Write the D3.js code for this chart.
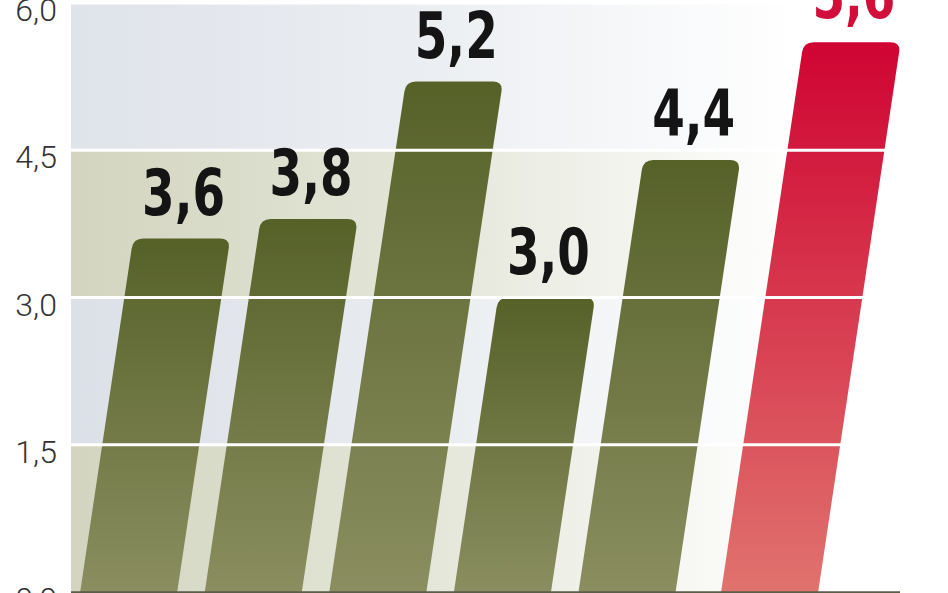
<!DOCTYPE html>
<html>
<head>
<meta charset="utf-8">
<script src="https://cdn.jsdelivr.net/npm/d3@7"></script>
<style>
  html, body { margin: 0; padding: 0; background: #fff; overflow: hidden; }
  svg { display: block; }
</style>
</head>
<body>
<svg id="chart" width="948" height="593"></svg>
<script>
// chart data
var categories = ['k1', 'k2', 'k3', 'k4', 'k5', 'k6'];
var values = [3.6, 3.8, 5.2, 3.0, 4.4, 5.6];
var highlightIndex = 5; // last bar drawn in red
var yTicks = [0, 1.5, 3, 4.5, 6];

var width = 948, height = 593;
var plotLeft = 71;
var slant = 0.15;      // horizontal shift per px of bar height
var corner = 10;       // top corner radius
var highlightGap = 18; // extra room before the red bar

var svg = d3.select('#chart');
var pl = d3.formatLocale({ decimal: ',', thousands: ' ', grouping: [3], currency: ['', ''] });
var fmt = pl.format('.1f');

var y = d3.scaleLinear().domain([0, 6]).range([592, 3]);

var x = d3.scaleBand()
  .domain(categories)
  .range([80, 800])
  .paddingInner(0.221)
  .paddingOuter(0);

var defs = svg.append('defs');

// background bands fade out to white on the right
var bandColors = ['#d3d5c0', '#dce0e7', '#d3d5c0', '#dfe3ea'];
bandColors.forEach(function(c, i) {
  var g = defs.append('linearGradient')
    .attr('id', 'band' + i)
    .attr('gradientUnits', 'userSpaceOnUse')
    .attr('x1', plotLeft).attr('x2', 800)
    .attr('y1', 0).attr('y2', 0);
  g.append('stop').attr('offset', 0).attr('stop-color', c);
  g.append('stop').attr('offset', 0.45).attr('stop-color', d3.interpolateRgb(c, '#fff')(0.35));
  g.append('stop').attr('offset', 1).attr('stop-color', '#fff');
});

function barGradient(id, top, bottom) {
  var g = defs.append('linearGradient')
    .attr('id', id)
    .attr('x1', 0).attr('x2', 0)
    .attr('y1', 0).attr('y2', 1);
  g.append('stop').attr('offset', 0).attr('stop-color', top);
  g.append('stop').attr('offset', 1).attr('stop-color', bottom);
}
barGradient('olive', '#566128', '#8a8e60');
barGradient('red', '#cf0432', '#e0736e');

svg.append('g').attr('class', 'bands')
  .selectAll('rect')
  .data(d3.pairs(yTicks))
  .enter().append('rect')
  .attr('x', plotLeft)
  .attr('width', width - plotLeft)
  .attr('y', function(d) { return y(d[1]); })
  .attr('height', function(d) { return y(d[0]) - y(d[1]); })
  .attr('fill', function(d, i) { return 'url(#band' + i + ')'; });

// slanted bar with rounded top corners
function barPath(d, i) {
  var y0 = y(0) + 1;
  var yt = y(d);
  var w = x.bandwidth();
  var xb = x(categories[i]) + (i === highlightIndex ? highlightGap : 0);
  var xt = xb + slant * (y0 - yt);
  var r = corner;
  return 'M' + xb + ',' + y0 +
    'L' + (xt - slant * r) + ',' + (yt + r) +
    'Q' + xt + ',' + yt + ' ' + (xt + r) + ',' + yt +
    'L' + (xt + w - r) + ',' + yt +
    'Q' + (xt + w) + ',' + yt + ' ' + (xt + w - slant * r) + ',' + (yt + r) +
    'L' + (xb + w) + ',' + y0 + 'Z';
}

function topCenter(d, i) {
  var xb = x(categories[i]) + (i === highlightIndex ? highlightGap : 0);
  return xb + slant * (y(0) - y(d)) + x.bandwidth() / 2;
}

svg.append('g').attr('class', 'bars')
  .selectAll('path')
  .data(values)
  .enter().append('path')
  .attr('d', barPath)
  .attr('fill', function(d, i) { return i === highlightIndex ? 'url(#red)' : 'url(#olive)'; });

// white grid lines sit on top of the bars
svg.append('g').attr('class', 'grid')
  .selectAll('line')
  .data(yTicks.filter(function(t) { return t > 0; }))
  .enter().append('line')
  .attr('x1', plotLeft).attr('x2', width)
  .attr('y1', function(d) { return y(d); })
  .attr('y2', function(d) { return y(d); })
  .attr('stroke', '#fff')
  .attr('stroke-width', 3);

svg.append('line')
  .attr('x1', plotLeft).attr('x2', 900)
  .attr('y1', y(0) + 0.5).attr('y2', y(0) + 0.5)
  .attr('stroke', '#5a5d48')
  .attr('stroke-width', 2.5);

var yAxis = d3.axisLeft(y)
  .tickValues(yTicks)
  .tickFormat(fmt)
  .tickSize(0)
  .tickPadding(14);

var ag = svg.append('g')
  .attr('transform', 'translate(' + plotLeft + ',0)')
  .call(yAxis);
ag.select('.domain').remove();
ag.selectAll('text')
  .attr('dy', '0.55em')
  .attr('fill', '#333')
  .style('font-family', 'Roboto, "Open Sans", sans-serif')
  .style('font-weight', 300)
  .style('font-size', '32px');

svg.append('g').attr('class', 'labels')
  .selectAll('text')
  .data(values)
  .enter().append('text')
  .attr('x', function(d, i) { return topCenter(d, i) + 2; })
  .attr('y', function(d) { return y(d) - 24; })
  .attr('text-anchor', 'middle')
  .attr('textLength', 83)
  .attr('lengthAdjust', 'spacingAndGlyphs')
  .attr('fill', function(d, i) { return i === highlightIndex ? '#d0103a' : '#141414'; })
  .style('font-family', '"DejaVu Sans Condensed", "DejaVu Sans", sans-serif')
  .style('font-weight', 'bold')
  .style('font-size', '64px')
  .text(function(d) { return fmt(d); });
</script>
</body>
</html>
